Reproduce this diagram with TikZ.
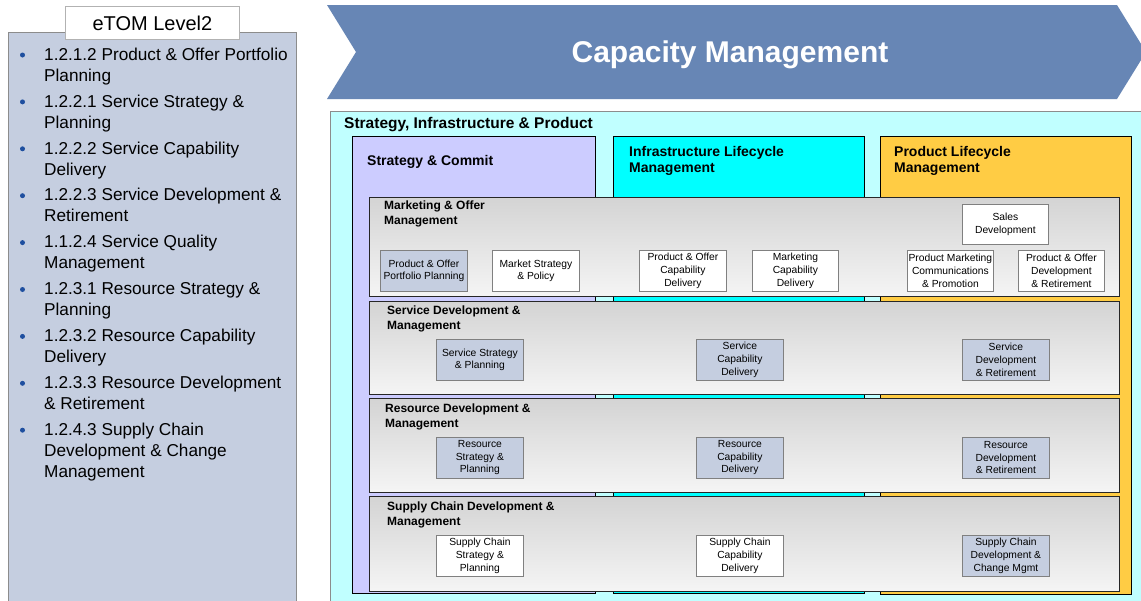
\documentclass[tikz,border=0pt]{standalone}
\usepackage{fontspec}
\setmainfont{Liberation Sans}
\usetikzlibrary{positioning}

\definecolor{panelblue}{RGB}{197,206,224}
\definecolor{bulletblue}{RGB}{31,79,159}
\definecolor{chevblue}{RGB}{103,134,181}
\definecolor{cyanbg}{RGB}{192,255,255}
\definecolor{lavender}{RGB}{204,204,255}
\definecolor{infracyan}{RGB}{0,255,255}
\definecolor{prodgold}{RGB}{255,204,68}

\begin{document}
\begin{tikzpicture}[x=1pt,y=-1pt,
  listitem/.style={anchor=north west,inner sep=0pt,align=left,font=\fontsize{17.2}{21}\selectfont},
  bulletdot/.style={circle,fill=bulletblue,inner sep=0pt,minimum size=5pt},
  column/.style={draw=black,line width=0.9pt,anchor=north west,inner sep=0pt},
  coltitle/.style={anchor=north west,inner sep=0pt,align=left,font=\fontsize{14}{16}\selectfont\bfseries},
  band/.style={draw=black!85,line width=0.9pt,anchor=north west,inner sep=0pt,top color=black!17,bottom color=black!4},
  bandtitle/.style={anchor=north west,inner sep=0pt,align=left,font=\fontsize{12}{14.5}\selectfont\bfseries},
  proc/.style={draw=black!50,line width=0.8pt,fill=white,anchor=north west,inner sep=0pt,
    minimum width=87pt,minimum height=41pt,align=center,font=\fontsize{10.3}{12.6}\selectfont},
  selproc/.style={proc,fill=panelblue}]
\useasboundingbox (0,0) rectangle (1141,600);
\clip (0,0) rectangle (1141,600);
\fill[white] (0,0) rectangle (1141,600);

% Left panel with the level 2 processes
\draw[fill=panelblue,draw=black!45,line width=0.8pt] (8,32) rectangle (296,612);
\node[draw=black!30,line width=0.8pt,fill=white,minimum width=174pt,minimum height=33pt,
  anchor=north west,inner sep=0pt,font=\fontsize{20}{24}\selectfont] (tab) at (65,6) {eTOM Level2};

\foreach \i/\txt in {1/{1.2.1.2 Product \& Offer Portfolio\\Planning},
    2/{1.2.2.1 Service Strategy \&\\Planning},
    3/{1.2.2.2 Service Capability\\Delivery},
    4/{1.2.2.3 Service Development \&\\Retirement},
    5/{1.1.2.4 Service Quality\\Management},
    6/{1.2.3.1 Resource Strategy \&\\Planning},
    7/{1.2.3.2 Resource Capability\\Delivery},
    8/{1.2.3.3 Resource Development\\\& Retirement},
    9/{1.2.4.3 Supply Chain\\Development \& Change\\Management}}{
  \pgfmathsetmacro\yb{60+46.9*(\i-1)}
  \node[listitem] (item\i) at (44,\yb-12.4) {\txt};
  \node[bulletdot] (dot\i) at (22.5,\yb-5) {};
}

% Chevron header
\fill[chevblue] (327,5) -- (1117,5) -- (1146,52) -- (1117,99) -- (327,99) -- (356,52) -- cycle;
\node[white,font=\fontsize{30}{34}\selectfont\bfseries] (title) at (730,55) {Capacity Management};

% Outer area
\draw[fill=cyanbg,draw=black!45,line width=1pt] (330,111) rectangle (1150,612);
\node[coltitle,font=\fontsize{15.5}{18}\selectfont\bfseries] (siptitle) at (344,117) {Strategy, Infrastructure \& Product};

% Vertical columns
\node[column,fill=lavender,minimum width=243pt,minimum height=457pt] (sc) at (352,136) {};
\node[column,fill=infracyan,minimum width=251pt,minimum height=457pt] (ilm) at (613,136) {};
\node[column,fill=prodgold,minimum width=251pt,minimum height=458pt] (plm) at (880,136) {};
\node[coltitle] (sctitle) at (367,155) {Strategy \& Commit};
\node[coltitle] (ilmtitle) at (629,146.5) {Infrastructure Lifecycle\\Management};
\node[coltitle] (plmtitle) at (894,146.5) {Product Lifecycle\\Management};

% Horizontal bands
\node[band,minimum width=750pt,minimum height=99pt] (mom) at (369,197) {};
\node[band,minimum width=750pt,minimum height=93pt] (sdm) at (369,301) {};
\node[band,minimum width=750pt,minimum height=94pt] (rdm) at (369,398) {};
\node[band,minimum width=750pt,minimum height=95pt] (scdm) at (369,496) {};
\node[bandtitle] (momtitle) at (384,201) {Marketing \& Offer\\Management};
\node[bandtitle] (sdmtitle) at (387,306) {Service Development \&\\Management};
\node[bandtitle] (rdmtitle) at (385,404) {Resource Development \&\\Management};
\node[bandtitle] (scdmtitle) at (387,502) {Supply Chain Development \&\\Management};

% Marketing & Offer Management processes
\node[selproc] (popp) at (380,250) {Product \& Offer\\Portfolio Planning};
\node[proc] (msp) at (492,250) {Market Strategy\\\& Policy};
\node[proc] (pocd) at (639,250) {Product \& Offer\\Capability\\Delivery};
\node[proc,minimum width=86pt] (mcd) at (752,250) {Marketing\\Capability\\Delivery};
\node[proc,minimum width=86pt,minimum height=40pt] (sdev) at (962,204) {Sales\\Development};
\node[proc,minimum width=86pt] (pmcp) at (907,250) {Product Marketing\\Communications\\\& Promotion};
\node[proc,minimum width=86pt] (podr) at (1018,250) {Product \& Offer\\Development\\\& Retirement};

% Service Development & Management processes
\node[selproc] (ssp) at (436,339) {Service Strategy\\\& Planning};
\node[selproc] (scd) at (696,339) {Service\\Capability\\Delivery};
\node[selproc] (sdr) at (962,339) {Service\\Development\\\& Retirement};

% Resource Development & Management processes
\node[selproc] (rsp) at (436,437) {Resource\\Strategy \&\\Planning};
\node[selproc] (rcd) at (696,437) {Resource\\Capability\\Delivery};
\node[selproc] (rdr) at (962,437) {Resource\\Development\\\& Retirement};

% Supply Chain Development & Management processes
\node[proc] (scsp) at (436,535) {Supply Chain\\Strategy \&\\Planning};
\node[proc] (sccd) at (696,535) {Supply Chain\\Capability\\Delivery};
\node[selproc] (scdc) at (962,535) {Supply Chain\\Development \&\\Change Mgmt};
\end{tikzpicture}
\end{document}
